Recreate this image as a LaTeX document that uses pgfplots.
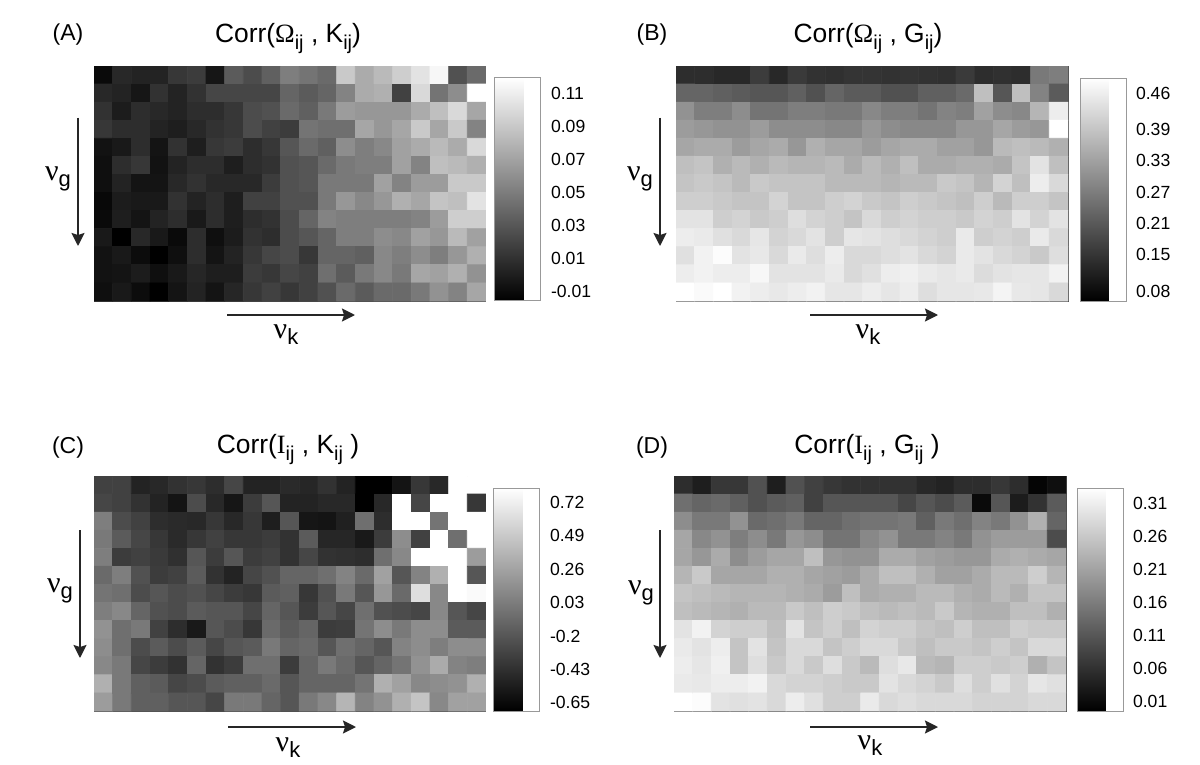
\documentclass[border=0pt]{standalone}
\usepackage{fontspec}
\setmainfont{Liberation Sans}
\newfontfamily\symf{Liberation Serif}
\usepackage{pgfplots}
\usepackage{pgfplotstable}
\pgfplotsset{compat=1.18}
\usetikzlibrary{arrows.meta}

% cell values as grey levels 0..255 of the scale, row by row (13 rows, 21 columns)
\pgfplotstableread[row sep=\\,col sep=space]{
g\\
10\\40\\35\\35\\55\\60\\22\\90\\75\\95\\125\\115\\105\\200\\170\\185\\205\\225\\245\\80\\105\\
40\\35\\22\\50\\35\\50\\70\\70\\70\\70\\100\\90\\100\\130\\170\\175\\65\\215\\115\\140\\255\\
50\\28\\45\\40\\35\\45\\45\\55\\75\\80\\105\\95\\120\\155\\150\\150\\150\\170\\190\\215\\165\\
55\\45\\45\\35\\30\\40\\50\\55\\75\\65\\60\\115\\110\\110\\165\\150\\165\\200\\165\\200\\130\\
18\\25\\45\\20\\50\\30\\55\\60\\45\\55\\85\\105\\95\\140\\125\\135\\160\\170\\185\\170\\215\\
15\\45\\55\\18\\35\\45\\45\\30\\45\\50\\80\\85\\105\\120\\125\\125\\160\\130\\190\\185\\175\\
15\\35\\20\\20\\40\\50\\40\\40\\40\\60\\80\\85\\120\\120\\120\\160\\130\\155\\155\\200\\200\\
8\\28\\25\\25\\50\\35\\45\\30\\65\\65\\80\\80\\120\\150\\135\\150\\175\\165\\195\\190\\225\\
10\\30\\20\\35\\45\\25\\45\\30\\45\\50\\75\\100\\130\\125\\125\\125\\125\\130\\155\\205\\205\\
25\\0\\40\\25\\10\\45\\15\\28\\50\\45\\75\\85\\100\\125\\125\\140\\135\\160\\150\\185\\160\\
18\\25\\12\\0\\15\\45\\20\\35\\55\\70\\75\\55\\100\\100\\95\\135\\125\\140\\125\\150\\175\\
18\\20\\28\\15\\25\\38\\30\\30\\60\\55\\70\\65\\110\\90\\120\\135\\120\\165\\160\\175\\145\\
15\\25\\12\\0\\20\\35\\20\\38\\55\\65\\55\\65\\80\\105\\90\\105\\105\\120\\145\\130\\165\\
}\tableA
\pgfplotstableread[row sep=\\,col sep=space]{
g\\
45\\45\\40\\40\\60\\40\\58\\50\\48\\52\\52\\50\\52\\50\\48\\58\\45\\48\\45\\120\\125\\
100\\100\\95\\90\\85\\85\\95\\80\\100\\90\\90\\80\\80\\95\\95\\105\\190\\85\\190\\130\\90\\
145\\125\\125\\140\\115\\115\\125\\125\\120\\120\\135\\125\\125\\115\\130\\125\\160\\140\\135\\180\\235\\
155\\150\\145\\145\\155\\140\\140\\140\\135\\135\\150\\140\\135\\135\\135\\150\\150\\165\\155\\150\\255\\
165\\170\\170\\155\\165\\170\\150\\175\\165\\165\\155\\165\\170\\170\\160\\160\\150\\185\\190\\185\\175\\
190\\195\\175\\185\\175\\185\\180\\180\\185\\170\\185\\175\\190\\170\\170\\175\\175\\170\\195\\225\\190\\
195\\200\\195\\185\\200\\195\\195\\195\\185\\185\\185\\180\\185\\185\\200\\195\\180\\210\\190\\235\\215\\
205\\205\\200\\195\\195\\210\\195\\195\\205\\210\\200\\195\\205\\200\\195\\190\\205\\185\\205\\205\\195\\
225\\225\\205\\210\\200\\205\\220\\210\\205\\195\\215\\205\\210\\205\\205\\200\\210\\205\\225\\210\\225\\
235\\232\\222\\215\\228\\210\\215\\225\\205\\228\\225\\220\\215\\210\\205\\232\\205\\210\\205\\232\\215\\
222\\240\\250\\225\\230\\215\\232\\220\\235\\215\\215\\220\\225\\215\\210\\232\\225\\215\\210\\200\\220\\
235\\240\\235\\235\\245\\225\\225\\225\\232\\215\\222\\235\\238\\232\\228\\232\\218\\225\\228\\228\\240\\
255\\248\\255\\240\\235\\230\\235\\240\\228\\228\\235\\228\\235\\220\\228\\228\\230\\242\\230\\228\\215\\
}\tableB
\pgfplotstableread[row sep=\\,col sep=space]{
g\\
65\\65\\35\\40\\50\\55\\45\\70\\35\\35\\42\\38\\50\\35\\0\\0\\20\\55\\40\\255\\255\\
70\\65\\50\\35\\20\\75\\40\\22\\60\\85\\35\\35\\40\\40\\0\\40\\255\\70\\255\\255\\55\\
125\\75\\65\\45\\42\\40\\55\\40\\55\\30\\85\\22\\20\\32\\110\\45\\255\\255\\115\\255\\255\\
120\\90\\70\\55\\42\\55\\65\\55\\55\\60\\50\\90\\38\\38\\25\\60\\140\\65\\255\\110\\255\\
125\\60\\65\\58\\48\\85\\60\\85\\60\\65\\50\\70\\50\\48\\45\\110\\135\\255\\255\\255\\155\\
105\\125\\80\\60\\65\\90\\50\\35\\70\\80\\100\\100\\110\\130\\105\\160\\85\\130\\175\\255\\85\\
115\\110\\75\\85\\75\\80\\70\\60\\55\\90\\95\\55\\80\\120\\85\\150\\105\\220\\135\\255\\248\\
125\\135\\100\\80\\75\\90\\85\\85\\70\\100\\85\\60\\85\\70\\110\\80\\75\\70\\135\\85\\70\\
145\\110\\120\\65\\45\\25\\85\\75\\55\\105\\90\\100\\60\\62\\115\\140\\120\\140\\140\\90\\90\\
140\\110\\75\\90\\75\\90\\70\\85\\90\\120\\100\\105\\85\\110\\100\\85\\130\\140\\125\\140\\140\\
135\\120\\70\\60\\50\\100\\50\\60\\110\\110\\60\\100\\120\\105\\85\\100\\115\\145\\170\\130\\125\\
175\\120\\95\\90\\70\\75\\90\\95\\95\\105\\85\\100\\100\\100\\115\\175\\160\\135\\140\\145\\175\\
155\\120\\95\\95\\85\\85\\70\\120\\120\\100\\85\\120\\135\\180\\130\\145\\175\\195\\135\\160\\160\\
}\tableC
\pgfplotstableread[row sep=\\,col sep=space]{
g\\
45\\30\\55\\55\\80\\30\\80\\65\\55\\50\\50\\50\\50\\40\\35\\45\\45\\55\\45\\5\\15\\
110\\100\\105\\95\\80\\90\\95\\65\\85\\85\\85\\85\\70\\85\\75\\90\\10\\85\\28\\50\\90\\
140\\120\\120\\145\\105\\110\\120\\100\\100\\110\\115\\115\\120\\95\\120\\110\\130\\120\\145\\175\\100\\
165\\135\\145\\125\\140\\120\\150\\140\\115\\115\\135\\145\\120\\120\\130\\120\\145\\155\\155\\155\\75\\
165\\150\\170\\140\\155\\165\\165\\190\\150\\145\\145\\170\\170\\160\\155\\150\\150\\170\\175\\170\\165\\
180\\200\\165\\165\\165\\175\\175\\165\\160\\155\\170\\190\\190\\175\\160\\160\\170\\185\\185\\205\\180\\
195\\190\\185\\180\\180\\180\\175\\170\\155\\190\\170\\175\\175\\185\\185\\175\\170\\185\\175\\195\\195\\
190\\185\\180\\175\\185\\185\\200\\190\\205\\200\\190\\185\\190\\185\\200\\180\\175\\175\\190\\190\\175\\
225\\240\\210\\205\\205\\190\\225\\195\\205\\190\\210\\205\\205\\195\\190\\205\\190\\190\\205\\200\\200\\
232\\225\\235\\195\\225\\195\\215\\215\\195\\205\\215\\215\\200\\190\\200\\200\\195\\205\\195\\215\\215\\
235\\228\\238\\195\\220\\200\\215\\200\\220\\200\\185\\220\\230\\185\\180\\205\\205\\200\\205\\175\\195\\
232\\230\\235\\235\\240\\215\\210\\210\\205\\200\\200\\225\\215\\210\\200\\220\\205\\222\\210\\228\\222\\
255\\250\\225\\222\\225\\215\\235\\222\\205\\205\\232\\215\\220\\215\\215\\215\\210\\210\\210\\215\\215\\
}\tableD

\newcommand{\tsub}[1]{\raisebox{-3.5pt}{\fontsize{10}{11}\selectfont #1}}
\newcommand{\nsub}[1]{\raisebox{-3pt}{\fontsize{11}{12}\selectfont #1}}
% #1,#2 lower left corner in image pixels, #3 table, #4,#5 scale ends, #6 ticks/labels, #7 colorbar left in pixels
\newcommand{\panel}[7]{
\begin{axis}[
  at={({#1*0.5pt},{-#2*0.5pt})}, anchor=south west,
  scale only axis, width=196pt, height=117.5pt,
  xmin=-0.5, xmax=20.5, ymin=-0.5, ymax=12.5, y dir=reverse,
  ticks=none, axis line style={draw=black!70, line width=0.5pt},
  colormap/blackwhite,
  point meta min=#4, point meta max=#5,
  colorbar,
  colorbar style={
    at={({(#7-#1)/392},0)}, anchor=south west,
    width=23pt, height=111.5pt,
    ytick={#6}, yticklabels={#6},
    tick style={draw=none},
    axis line style={draw=black!40, line width=0.5pt},
    yticklabel style={font=\fontsize{8.8}{10}\selectfont, xshift=1.5pt},
  },
]
\addplot[matrix plot*, mesh/cols=21,
  point meta={#4+\thisrow{g}*(#5-(#4))/255}]
  table[x index=0, y index=0,
    x expr={\the\numexpr\coordindex-21*((\coordindex-10)/21)\relax},
    y expr={\the\numexpr(\coordindex-10)/21\relax}] {#3};
\end{axis}
}

\begin{document}
\begin{tikzpicture}[x=0.5pt,y=-0.5pt]
\path[use as bounding box] (0,0) rectangle (1200,765);

\panel{94}{301}{\tableA}{-0.01575}{0.1191}{-0.01,0.01,0.03,0.05,0.07,0.09,0.11}{495}
\panel{676}{301}{\tableB}{0.0608}{0.4888}{0.08,0.15,0.21,0.27,0.33,0.39,0.46}{1080}
\panel{94}{711}{\tableC}{-0.712}{0.816}{-0.65,-0.43,-0.2,0.03,0.26,0.49,0.72}{494}
\panel{674}{711}{\tableD}{-0.0043}{0.3327}{0.01,0.06,0.11,0.16,0.21,0.26,0.31}{1077}

\tikzset{lab/.style={font=\fontsize{11.5}{13}\selectfont, inner sep=0pt, anchor=base},
  ttl/.style={font=\fontsize{13.2}{15}\selectfont, inner sep=0pt, anchor=base},
  nu/.style={font=\fontsize{15}{17}\selectfont, inner sep=0pt, anchor=base},
  arr/.style={-{Stealth[length=6.5pt,width=6.5pt,inset=1pt]}, line width=0.9pt, draw=black!85, fill=black!85}}

\node[lab] at (68,41) {(A)};
\node[lab] at (652,41) {(B)};
\node[lab] at (68,453) {(C)};
\node[lab] at (652,453) {(D)};

\node[ttl] at (288,43) {Corr({\symf Ω}\tsub{ij} , K\tsub{ij})};
\node[ttl] at (868,43) {Corr({\symf Ω}\tsub{ij} , G\tsub{ij})};
\node[ttl] at (288,453) {Corr({\symf I}\tsub{ij} , K\tsub{ij} )};
\node[ttl] at (867,453) {Corr({\symf I}\tsub{ij} , G\tsub{ij} )};

\draw[arr] (227,315) -- (355,315);
\draw[arr] (810,315) -- (938,315);
\draw[arr] (228,727) -- (356,727);
\draw[arr] (810,727) -- (938,727);
\draw[arr] (78,118) -- (78,246);
\draw[arr] (660,118) -- (660,246);
\draw[arr] (80,530) -- (80,658);
\draw[arr] (660,530) -- (660,658);

\node[nu] at (286,338) {{\symf ν}\nsub{k}};
\node[nu] at (868,338) {{\symf ν}\nsub{k}};
\node[nu] at (288,751) {{\symf ν}\nsub{k}};
\node[nu] at (870,749) {{\symf ν}\nsub{k}};
\node[nu] at (58,180) {{\symf ν}\nsub{g}};
\node[nu] at (640,180) {{\symf ν}\nsub{g}};
\node[nu] at (60,592) {{\symf ν}\nsub{g}};
\node[nu] at (641,594) {{\symf ν}\nsub{g}};
\end{tikzpicture}
\end{document}
